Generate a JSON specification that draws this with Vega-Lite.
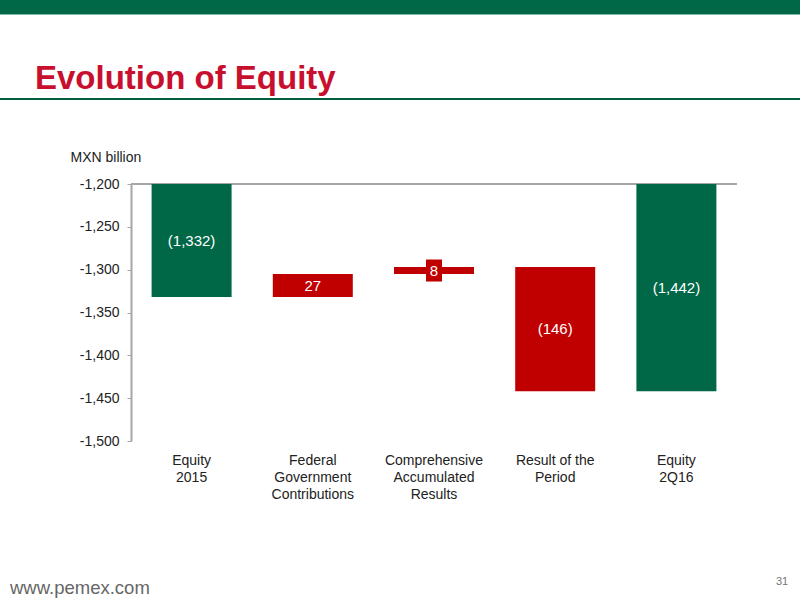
{
  "$schema": "https://vega.github.io/schema/vega-lite/v6.json",
  "width": 606,
  "height": 257,
  "autosize": {"type": "none"},
  "padding": {"left": 131, "top": 184, "right": 63, "bottom": 159},
  "background": "white",
  "config": {"view": {"stroke": null}, "font": "Liberation Sans"},
  "data": {
    "values": [
      {"step": "Equity 2015", "start": -1200, "end": -1332, "label": "(1,332)", "kind": "total"},
      {"step": "Federal Government Contributions", "start": -1332, "end": -1305, "label": "27", "kind": "change"},
      {"step": "Comprehensive Accumulated Results", "start": -1305, "end": -1297, "label": "8", "kind": "change"},
      {"step": "Result of the Period", "start": -1297, "end": -1442, "label": "(146)", "kind": "change"},
      {"step": "Equity 2Q16", "start": -1200, "end": -1442, "label": "(1,442)", "kind": "total"}
    ]
  },
  "layer": [
    {
      "data": {"values": [{}]},
      "mark": {"type": "rule", "color": "#006847", "strokeWidth": 14},
      "encoding": {"x": {"value": -131}, "x2": {"value": 669}, "y": {"value": -177}}
    },
    {
      "data": {"values": [{}]},
      "mark": {"type": "rule", "color": "#7fb8a4", "strokeWidth": 1},
      "encoding": {"x": {"value": -131}, "x2": {"value": 669}, "y": {"value": -169.5}}
    },
    {
      "data": {"values": [{}]},
      "mark": {"type": "rule", "color": "#005c3e", "strokeWidth": 2},
      "encoding": {"x": {"value": -131}, "x2": {"value": 669}, "y": {"value": -85}}
    },
    {
      "data": {"values": [{"t": "Evolution of Equity"}]},
      "mark": {"type": "text", "align": "left", "baseline": "alphabetic", "fontSize": 33, "fontWeight": "bold", "color": "#c8102e"},
      "encoding": {"x": {"value": -96}, "y": {"value": -95}, "text": {"field": "t"}}
    },
    {
      "data": {"values": [{"t": "www.pemex.com"}]},
      "mark": {"type": "text", "align": "left", "baseline": "alphabetic", "fontSize": 18.5, "color": "#666666"},
      "encoding": {"x": {"value": -121}, "y": {"value": 410}, "text": {"field": "t"}}
    },
    {
      "data": {"values": [{"t": "31"}]},
      "mark": {"type": "text", "align": "left", "baseline": "alphabetic", "fontSize": 11, "color": "#777777"},
      "encoding": {"x": {"value": 645}, "y": {"value": 401}, "text": {"field": "t"}}
    },
    {
      "data": {"values": [{}]},
      "mark": {"type": "rule", "color": "#a6a6a6", "strokeWidth": 2},
      "encoding": {"y": {"datum": -1200, "type": "quantitative"}}
    },
    {
      "mark": {"type": "bar"},
      "encoding": {
        "x": {
          "field": "step",
          "type": "nominal",
          "sort": null,
          "scale": {"paddingInner": 0.34, "paddingOuter": 0.17},
          "axis": {
            "title": null,
            "domain": false,
            "ticks": false,
            "labelAngle": 0,
            "labelFontSize": 14,
            "labelColor": "#222222",
            "labelPadding": 12,
            "labelLineHeight": 17,
            "labelBaseline": "top",
            "labelExpr": "datum.value == 'Equity 2015' ? ['Equity', '2015'] : datum.value == 'Federal Government Contributions' ? ['Federal', 'Government', 'Contributions'] : datum.value == 'Comprehensive Accumulated Results' ? ['Comprehensive', 'Accumulated', 'Results'] : datum.value == 'Result of the Period' ? ['Result of the', 'Period'] : ['Equity', '2Q16']"
          }
        },
        "y": {
          "field": "start",
          "type": "quantitative",
          "scale": {"domain": [-1500, -1200], "nice": false, "zero": false},
          "axis": {
            "title": "MXN billion",
            "titleAngle": 0,
            "titleAlign": "left",
            "titleBaseline": "middle",
            "titleX": -61,
            "titleY": -27,
            "titleFontSize": 14,
            "titleFontWeight": "normal",
            "titleColor": "#222222",
            "values": [-1500, -1450, -1400, -1350, -1300, -1250, -1200],
            "labelExpr": "replace(format(datum.value, ',.0f'), '\u2212', '-')",
            "grid": false,
            "domainColor": "#a6a6a6",
            "domainWidth": 2,
            "tickColor": "#a6a6a6",
            "tickSize": 4,
            "labelFontSize": 14,
            "labelColor": "#222222",
            "labelPadding": 8
          }
        },
        "y2": {"field": "end"},
        "color": {
          "field": "kind",
          "type": "nominal",
          "scale": {"domain": ["total", "change"], "range": ["#006847", "#c00000"]},
          "legend": null
        }
      }
    },
    {
      "transform": [
        {"filter": "datum.step == 'Comprehensive Accumulated Results'"},
        {"calculate": "(datum.start + datum.end) / 2", "as": "mid"}
      ],
      "mark": {"type": "point", "filled": true, "opacity": 1, "color": "#c00000", "size": 484, "shape": "M-0.73,-1L0.73,-1L0.73,1L-0.73,1Z"},
      "encoding": {
        "x": {"field": "step", "type": "nominal", "sort": null},
        "y": {"field": "mid", "type": "quantitative"}
      }
    },
    {
      "transform": [{"calculate": "(datum.start + datum.end) / 2", "as": "mid"}],
      "mark": {"type": "text", "color": "white", "fontSize": 15, "baseline": "middle"},
      "encoding": {
        "x": {"field": "step", "type": "nominal", "sort": null},
        "y": {"field": "mid", "type": "quantitative"},
        "text": {"field": "label"}
      }
    }
  ]
}
